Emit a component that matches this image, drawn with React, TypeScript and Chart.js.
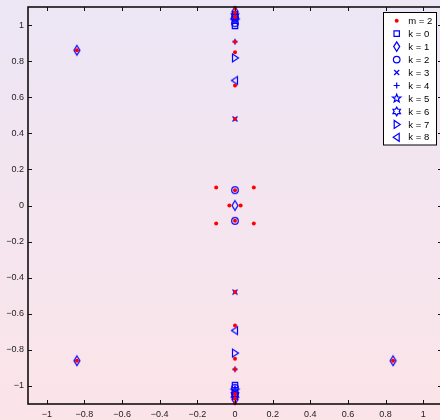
import React, { useEffect, useRef } from "react";
import { Chart, registerables } from "chart.js";
Chart.register(...registerables);

const X_TICKS = [-1, -0.8, -0.6, -0.4, -0.2, 0, 0.2, 0.4, 0.6, 0.8, 1];
const Y_TICKS = [-1, -0.8, -0.6, -0.4, -0.2, 0, 0.2, 0.4, 0.6, 0.8, 1];

const M2_POINTS = [
  [-0.84, 0.86], [-0.84, -0.86], [0.84, 0.86], [0.84, -0.86],
  [-0.1, 0.1], [0.1, 0.1], [-0.1, -0.1], [0.1, -0.1],
  [-0.03, 0], [0.03, 0],
  [0, 0.085], [0, -0.085],
  [0, 0.48], [0, -0.48],
  [0, 0.665], [0, -0.665],
  [0, 0.849], [0, -0.849],
  [0, 0.908], [0, -0.908],
  [0, 1.045], [0, -1.045], [0, 1.07], [0, -1.07], [0, 1.095], [0, -1.095],
];
const K0_POINTS = [[0, 0.995], [0, -0.995], [0, 1.06], [0, -1.06]];
const K1_POINTS = [[-0.84, 0.86], [-0.84, -0.86], [0.84, 0.86], [0.84, -0.86], [0, 0], [0, 1.075], [0, -1.075]];
const K2_POINTS = [[0, 0.085], [0, -0.085], [0, 1.01], [0, -1.01], [0, 1.04], [0, -1.04]];
const K3_POINTS = [[0, 0.48], [0, -0.48]];
const K4_POINTS = [[0, 0.908], [0, -0.908]];
const K5_POINTS = [[0, 1.025], [0, -1.025]];
const K6_POINTS = [[0, 1.05], [0, -1.05]];
const K7_POINTS = [[0, 0.818], [0, -0.818]];
const K8_POINTS = [[0, 0.693], [0, -0.693]];

const SERIES_LABELS = ["m = 2", "k = 0", "k = 1", "k = 2", "k = 3", "k = 4", "k = 5", "k = 6", "k = 7", "k = 8"];
const SERIES_POINTS = [M2_POINTS, K0_POINTS, K1_POINTS, K2_POINTS, K3_POINTS, K4_POINTS, K5_POINTS, K6_POINTS, K7_POINTS, K8_POINTS];
const SERIES_MARKERS = ["dot", "square", "diamond", "circle", "x", "plus", "pentagram", "hexagram", "triright", "trileft"];

const BLUE = "#0000ff";
const RED = "#ff0000";
const FONT = "'Liberation Sans', Arial, sans-serif";

function fmt(v: number) {
  const r = Math.round(v * 10) / 10;
  return r < 0 ? "\u2212" + String(Math.abs(r)) : String(r);
}

function drawMarker(ctx: CanvasRenderingContext2D, kind: string, x: number, y: number) {
  ctx.save();
  ctx.strokeStyle = BLUE;
  ctx.fillStyle = RED;
  ctx.lineWidth = 1.2;
  ctx.beginPath();
  switch (kind) {
    case "dot":
      ctx.arc(x, y, 2, 0, Math.PI * 2);
      ctx.fill();
      break;
    case "square":
      ctx.rect(x - 2.7, y - 2.7, 5.4, 5.4);
      ctx.stroke();
      break;
    case "diamond":
      ctx.moveTo(x, y - 4.8);
      ctx.lineTo(x + 3, y);
      ctx.lineTo(x, y + 4.8);
      ctx.lineTo(x - 3, y);
      ctx.closePath();
      ctx.stroke();
      break;
    case "circle":
      ctx.arc(x, y, 3.3, 0, Math.PI * 2);
      ctx.stroke();
      break;
    case "x":
      ctx.moveTo(x - 2.5, y - 2.5);
      ctx.lineTo(x + 2.5, y + 2.5);
      ctx.moveTo(x + 2.5, y - 2.5);
      ctx.lineTo(x - 2.5, y + 2.5);
      ctx.stroke();
      break;
    case "plus":
      ctx.moveTo(x - 3, y);
      ctx.lineTo(x + 3, y);
      ctx.moveTo(x, y - 3);
      ctx.lineTo(x, y + 3);
      ctx.stroke();
      break;
    case "pentagram":
      for (let i = 0; i < 10; i++) {
        const r = i % 2 === 0 ? 4.3 : 1.8;
        const a = -Math.PI / 2 + (i * Math.PI) / 5;
        const px = x + r * Math.cos(a);
        const py = y + r * Math.sin(a);
        if (i === 0) ctx.moveTo(px, py);
        else ctx.lineTo(px, py);
      }
      ctx.closePath();
      ctx.stroke();
      break;
    case "hexagram":
      for (let i = 0; i < 12; i++) {
        const r = i % 2 === 0 ? 4.3 : 2.5;
        const a = -Math.PI / 2 + (i * Math.PI) / 6;
        const px = x + r * Math.cos(a);
        const py = y + r * Math.sin(a);
        if (i === 0) ctx.moveTo(px, py);
        else ctx.lineTo(px, py);
      }
      ctx.closePath();
      ctx.stroke();
      break;
    case "triright":
      ctx.moveTo(x + 3.5, y);
      ctx.lineTo(x - 2.5, y - 4);
      ctx.lineTo(x - 2.5, y + 4);
      ctx.closePath();
      ctx.stroke();
      break;
    case "trileft":
      ctx.moveTo(x - 3.5, y);
      ctx.lineTo(x + 2.5, y - 4);
      ctx.lineTo(x + 2.5, y + 4);
      ctx.closePath();
      ctx.stroke();
      break;
  }
  ctx.restore();
}

function markerImage(kind: string) {
  const c = document.createElement("canvas");
  c.width = 16;
  c.height = 16;
  const ctx = c.getContext("2d")!;
  drawMarker(ctx, kind, 8, 8);
  return c;
}

const framePlugin = {
  id: "frame",
  afterDatasetsDraw(chart: any) {
    const { ctx, chartArea, scales } = chart;
    const { left, right, top, bottom } = chartArea;
    ctx.save();
    ctx.strokeStyle = "#111111";
    ctx.lineWidth = 1.6;
    ctx.strokeRect(left, top, right - left, bottom - top);
    ctx.lineWidth = 1;
    ctx.beginPath();
    const tl = 4;
    X_TICKS.forEach((v) => {
      const px = Math.round(scales.x.getPixelForValue(v)) + 0.5;
      ctx.moveTo(px, bottom);
      ctx.lineTo(px, bottom - tl);
      ctx.moveTo(px, top);
      ctx.lineTo(px, top + tl);
    });
    Y_TICKS.forEach((v) => {
      const py = Math.round(scales.y.getPixelForValue(v)) + 0.5;
      ctx.moveTo(left, py);
      ctx.lineTo(left + tl, py);
      ctx.moveTo(right, py);
      ctx.lineTo(right - tl, py);
    });
    ctx.stroke();
    ctx.restore();
  },
  afterDraw(chart: any) {
    const ctx = chart.ctx;
    ctx.save();
    const bx = 383.5, by = 12.5, bw = 53, bh = 132.5;
    ctx.fillStyle = "#ffffff";
    ctx.fillRect(bx, by, bw, bh);
    ctx.strokeStyle = "#000000";
    ctx.lineWidth = 1;
    ctx.strokeRect(bx, by, bw, bh);
    ctx.font = "9.5px " + FONT;
    ctx.textBaseline = "middle";
    ctx.textAlign = "left";
    SERIES_LABELS.forEach((lab, i) => {
      const y = 20.7 + i * 12.96;
      drawMarker(ctx, SERIES_MARKERS[i], 396.7, y);
      ctx.fillStyle = "#000000";
      ctx.fillText(lab, 408.3, y + 0.5);
    });
    ctx.restore();
  },
};

export default function App() {
  const ref = useRef<HTMLCanvasElement | null>(null);
  useEffect(() => {
    const canvas = ref.current!;
    const datasets = SERIES_LABELS.map((lab, i) => {
      const pts = SERIES_POINTS[i].map((p) => ({ x: p[0], y: p[1] }));
      if (SERIES_MARKERS[i] === "dot") {
        return {
          label: lab,
          data: pts,
          pointStyle: "circle",
          pointRadius: 2,
          backgroundColor: RED,
          borderColor: RED,
          borderWidth: 0,
          showLine: false,
          clip: 4,
        };
      }
      return {
        label: lab,
        data: pts,
        pointStyle: markerImage(SERIES_MARKERS[i]),
        pointRadius: 4,
        backgroundColor: BLUE,
        borderColor: BLUE,
        showLine: false,
        clip: 4,
      };
    });
    const chart = new Chart(canvas, {
      type: "scatter",
      data: { datasets: datasets as any },
      options: {
        animation: false,
        responsive: false,
        events: [],
        layout: { autoPadding: false, padding: { top: 7, right: 2, left: 0, bottom: 0 } },
        plugins: { legend: { display: false }, tooltip: { enabled: false }, title: { display: false } },
        scales: {
          x: {
            type: "linear",
            min: -1.1,
            max: 1.1,
            grid: { display: false, drawTicks: false },
            border: { display: false },
            afterBuildTicks: (s: any) => {
              s.ticks = X_TICKS.map((v) => ({ value: v }));
            },
            afterFit: (s: any) => {
              s.height = 16;
              s.paddingLeft = 0;
              s.paddingRight = 0;
            },
            ticks: {
              autoSkip: false,
              maxRotation: 0,
              padding: 5,
              color: "#222222",
              font: { size: 9, family: FONT },
              callback: (v: any) => fmt(Number(v)),
            },
          },
          y: {
            type: "linear",
            min: -1.1,
            max: 1.1,
            grid: { display: false, drawTicks: false },
            border: { display: false },
            afterBuildTicks: (s: any) => {
              s.ticks = Y_TICKS.map((v) => ({ value: v }));
            },
            afterFit: (s: any) => {
              s.width = 28;
              s.paddingTop = 0;
              s.paddingBottom = 0;
            },
            ticks: {
              autoSkip: false,
              padding: 4,
              color: "#222222",
              font: { size: 9, family: FONT },
              callback: (v: any) => fmt(Number(v)),
            },
          },
        },
      },
      plugins: [framePlugin],
    });
    return () => chart.destroy();
  }, []);
  return (
    <div
      style={{
        position: "fixed",
        left: 0,
        top: 0,
        width: 440,
        height: 420,
        overflow: "hidden",
        background: "linear-gradient(to bottom, #ece6f5 0%, #f4e5ef 50%, #fbe4e8 100%)",
      }}
    >
      <canvas ref={ref} width={444} height={420} style={{ display: "block", width: 444, height: 420 }} />
    </div>
  );
}
